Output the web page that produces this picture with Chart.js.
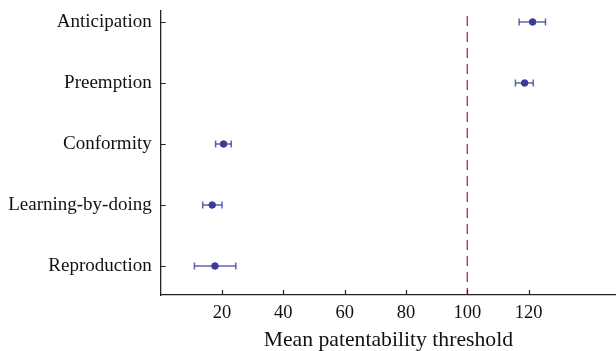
<!DOCTYPE html>
<html>
<head>
<meta charset="utf-8">
<script src="https://cdn.jsdelivr.net/npm/chart.js@4"></script>
<style>
    html, body { margin: 0; padding: 0; background: #fff; }
    #wrap { width: 616px; height: 351px; }
</style>
</head>
<body>
<div id="wrap"><canvas id="chart"></canvas></div>
<script>
// categories, top to bottom
const categories = ["Anticipation", "Preemption", "Conformity", "Learning-by-doing", "Reproduction"];
const means = [121.3, 118.7, 20.5, 16.8, 17.7];
const lower = [116.9, 115.7, 17.9, 13.7, 11.0];
const upper = [125.5, 121.5, 23.0, 20.0, 24.5];
const xTicks = [20, 40, 60, 80, 100, 120];
const threshold = 100;

const dotColor = "#3b3b98";
const barColor = "rgba(70, 70, 160, 0.85)";
const serif = "'Liberation Serif', 'DejaVu Serif', serif";

// one small line dataset per category for the error bar, caps via rotated 'line' points
const errorSets = categories.map((c, i) => ({
    label: c + " CI",
    data: [{ x: lower[i], y: i }, { x: upper[i], y: i }],
    showLine: true,
    borderColor: barColor,
    borderWidth: 1.5,
    pointStyle: "line",
    rotation: 90,
    pointRadius: 3.4,
    pointBorderColor: barColor,
    pointBorderWidth: 1.5,
    order: 2
}));

const thresholdSet = {
    label: "threshold",
    data: [{ x: threshold, y: -0.1 }, { x: threshold, y: 4.475 }],
    showLine: true,
    borderColor: "#d0202a",
    borderWidth: 1.3,
    borderDash: [10, 6],
    pointRadius: 0,
    order: 3
};

const meanSet = {
    label: "mean",
    data: means.map((m, i) => ({ x: m, y: i })),
    pointRadius: 3.3,
    pointBackgroundColor: dotColor,
    pointBorderColor: dotColor,
    order: 1
};

// ticks pointing into the plot
const inwardTicks = {
    id: "inwardTicks",
    afterDatasetsDraw(chart) {
        const { ctx, chartArea, scales } = chart;
        ctx.save();
        ctx.strokeStyle = "#222";
        ctx.lineWidth = 1.2;
        ctx.beginPath();
        xTicks.forEach(v => {
            const px = Math.round(scales.x.getPixelForValue(v)) + 0.5;
            ctx.moveTo(px, chartArea.bottom);
            ctx.lineTo(px, chartArea.bottom - 5);
        });
        categories.forEach((c, i) => {
            const py = Math.round(scales.y.getPixelForValue(i)) + 0.5;
            ctx.moveTo(chartArea.left, py);
            ctx.lineTo(chartArea.left + 5, py);
        });
        ctx.stroke();
        ctx.restore();
    }
};

new Chart(document.getElementById("chart"), {
    type: "scatter",
    data: { datasets: [thresholdSet, ...errorSets, meanSet] },
    options: {
        responsive: true,
        maintainAspectRatio: false,
        animation: false,
        layout: { autoPadding: false, padding: { top: 11, right: 0, left: 0, bottom: 0 } },
        plugins: {
            legend: { display: false },
            tooltip: { enabled: false }
        },
        scales: {
            x: {
                type: "linear",
                min: 0,
                max: 148.5,
                afterBuildTicks: s => { s.ticks = xTicks.map(v => ({ value: v })); },
                afterFit: s => { s.height = 56; s.paddingLeft = 0; s.paddingRight = 0; },
                grid: { display: false, drawTicks: false },
                border: { display: true, color: "#222", width: 1.3 },
                ticks: {
                    color: "#111",
                    padding: 7,
                    maxRotation: 0,
                    font: { family: serif, size: 18.5 }
                },
                title: {
                    display: true,
                    text: "Mean patentability threshold",
                    color: "#111",
                    padding: { top: 2, bottom: -2 },
                    font: { family: serif, size: 21.7 }
                }
            },
            y: {
                type: "linear",
                reverse: true,
                min: -0.18,
                max: 4.475,
                afterBuildTicks: s => { s.ticks = categories.map((c, i) => ({ value: i })); },
                afterFit: s => { s.width = 160.7; s.paddingTop = 0; s.paddingBottom = 0; },
                grid: { display: false, drawTicks: false },
                border: { display: true, color: "#222", width: 1.3 },
                ticks: {
                    color: "#111",
                    padding: 9,
                    font: { family: serif, size: 19 },
                    callback: v => categories[v]
                }
            }
        }
    },
    plugins: [inwardTicks]
});
</script>
</body>
</html>
